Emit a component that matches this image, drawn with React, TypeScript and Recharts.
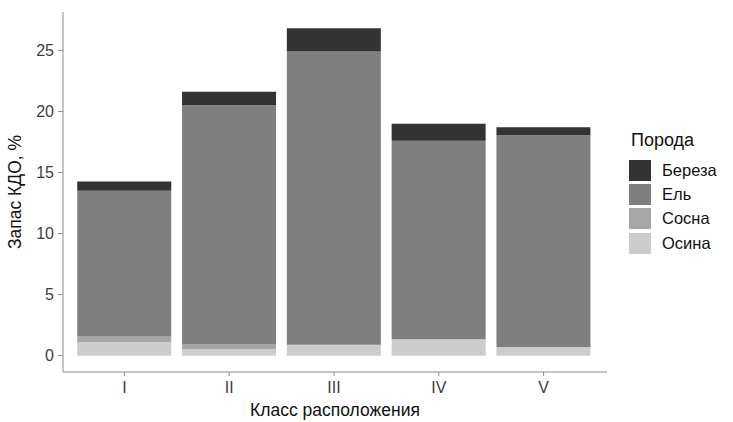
import { BarChart, Bar, XAxis, YAxis, Legend, Label } from 'recharts'

// ─── Данные: запас КДО по классам расположения ───────────────────────────────
const classes = ['I', 'II', 'III', 'IV', 'V']
const osina = [1.1, 0.55, 0.9, 1.35, 0.7]
const sosna = [0.5, 0.4, 0, 0, 0]
const el = [11.9, 19.55, 24.0, 16.25, 17.35]
const bereza = [0.77, 1.1, 1.9, 1.38, 0.65]
const yTicks = [0, 5, 10, 15, 20, 25]

// stack order, bottom → top
const series = [
  { key: 'Осина', values: osina, color: '#cccccc' },
  { key: 'Сосна', values: sosna, color: '#a6a6a6' },
  { key: 'Ель', values: el, color: '#7f7f7f' },
  { key: 'Береза', values: bereza, color: '#333333' },
]

const data = classes.map((c, i) => {
  const row: Record<string, string | number> = { cls: c }
  series.forEach((s) => (row[s.key] = s.values[i]))
  return row
})

const FONT = '"Liberation Sans", Arial, sans-serif'
const AXIS = '#8c8c8c'
const TICK = { fill: '#3d3d3d', fontSize: 16, fontFamily: FONT }

function PorodaLegend() {
  return (
    <div style={{ fontFamily: FONT, color: '#111' }}>
      <div style={{ fontSize: 18, lineHeight: '20px', marginBottom: 8, paddingLeft: 2 }}>Порода</div>
      {[...series].reverse().map((s) => (
        <div key={s.key} style={{ display: 'flex', alignItems: 'center', height: 24.3 }}>
          <span style={{ width: 22, height: 21, background: s.color, display: 'inline-block', marginRight: 11 }} />
          <span style={{ fontSize: 16.5 }}>{s.key}</span>
        </div>
      ))}
    </div>
  )
}

export default function App() {
  return (
    <div style={{ position: 'absolute', left: 0, top: 0, width: 733, height: 422, background: '#fff' }}>
      <BarChart
        width={733}
        height={422}
        data={data}
        margin={{ top: 12, right: 126, left: 0, bottom: 4 }}
        barCategoryGap="5%"
      >
        <XAxis
          dataKey="cls"
          padding={{ left: 9, right: 11 }}
          height={46}
          tickSize={4}
          tickMargin={6}
          axisLine={{ stroke: AXIS }}
          tickLine={{ stroke: AXIS }}
          tick={TICK}
        >
          <Label
            content={({ viewBox }: any) => (
              <text
                x={viewBox.x + viewBox.width / 2}
                y={viewBox.y + viewBox.height - 2}
                textAnchor="middle"
                fontSize={17.5}
                fontFamily={FONT}
                fill="#111"
              >
                Класс расположения
              </text>
            )}
          />
        </XAxis>
        <YAxis
          type="number"
          width={63}
          domain={[-1.34, 28.14]}
          ticks={yTicks}
          allowDataOverflow
          tickSize={5}
          tickMargin={4}
          axisLine={{ stroke: AXIS }}
          tickLine={{ stroke: AXIS }}
          tick={TICK}
        >
          <Label
            content={({ viewBox }: any) => {
              const cx = viewBox.x + 15
              const cy = viewBox.y + viewBox.height / 2
              return (
                <text
                  x={cx}
                  y={cy}
                  transform={`rotate(-90 ${cx} ${cy})`}
                  textAnchor="middle"
                  dominantBaseline="central"
                  fontSize={17.5}
                  fontFamily={FONT}
                  fill="#111"
                >
                  Запас КДО, %
                </text>
              )
            }}
          />
        </YAxis>
        <Legend
          layout="vertical"
          align="center"
          verticalAlign="middle"
          content={() => <PorodaLegend />}
          wrapperStyle={{ left: 629, top: 130, width: 104 }}
        />
        {series.map((s) => (
          <Bar key={s.key} dataKey={s.key} stackId="a" fill={s.color} isAnimationActive={false} />
        ))}
      </BarChart>
    </div>
  )
}
